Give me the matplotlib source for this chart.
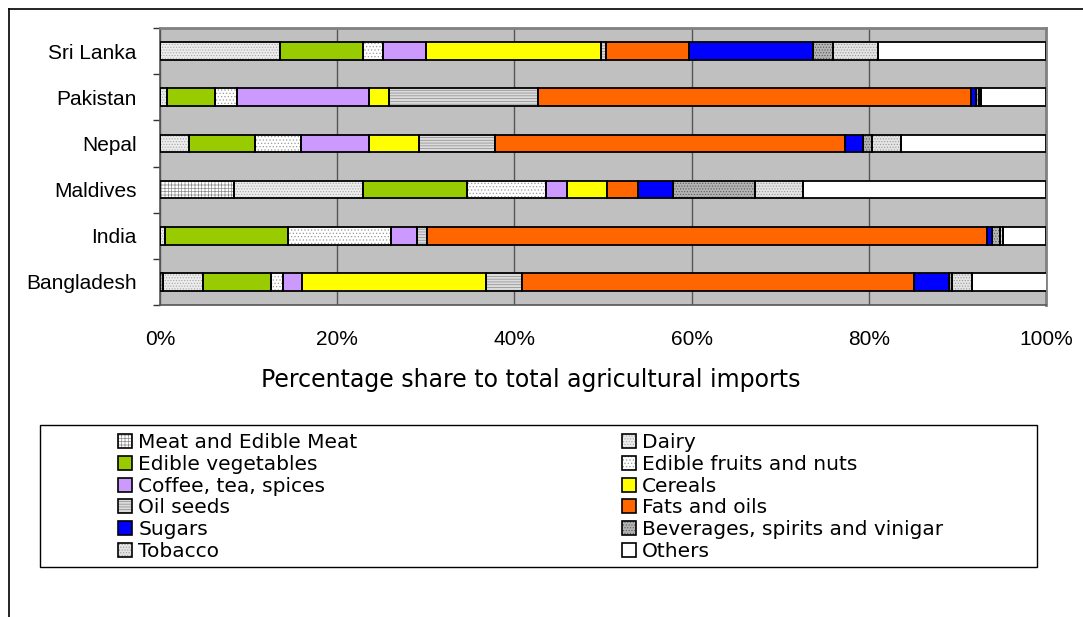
import matplotlib
matplotlib.use("Agg")
import matplotlib.pyplot as plt
from matplotlib.patches import Patch, Rectangle
from matplotlib.lines import Line2D
from matplotlib.legend_handler import HandlerTuple
import numpy as np

plt.rcParams["font.family"] = ["Liberation Sans", "DejaVu Sans"]
plt.rcParams["hatch.linewidth"] = 0.5

# countries, top to bottom
countries = ["Sri Lanka", "Pakistan", "Nepal", "Maldives", "India", "Bangladesh"]

# percentage share of each product group
meat = [0, 0, 0, 8.4, 0, 0.3]
dairy = [13.6, 0.8, 3.3, 14.5, 0.6, 4.5]
vegetables = [9.3, 5.4, 7.4, 11.7, 13.9, 7.7]
fruits = [2.3, 2.5, 5.2, 9.0, 11.6, 1.4]
coffee = [4.8, 14.9, 7.7, 2.3, 2.9, 2.1]
cereals = [19.8, 2.2, 5.6, 4.5, 0, 20.8]
oilseeds = [0.5, 16.9, 8.6, 0, 1.1, 4.1]
fats = [9.4, 48.8, 39.5, 3.6, 63.2, 44.2]
sugars = [14.0, 0.6, 2.0, 3.9, 0.6, 3.9]
beverages = [2.3, 0.3, 1.1, 9.3, 0.9, 0.4]
tobacco = [5.0, 0.3, 3.2, 5.4, 0.4, 2.3]
others = [19.0, 7.3, 16.4, 27.4, 4.8, 8.5]

series_names = [
    "Meat and Edible Meat", "Dairy", "Edible vegetables", "Edible fruits and nuts",
    "Coffee, tea, spices", "Cereals", "Oil seeds", "Fats and oils", "Sugars",
    "Beverages, spirits and vinigar", "Tobacco", "Others",
]
series_values = [meat, dairy, vegetables, fruits, coffee, cereals, oilseeds,
                 fats, sugars, beverages, tobacco, others]

# (face, hatch, hatch colour)
styles = [
    ("white", "+++++", "#8a8a8a"),
    ("#ececec", "......", "#a8a8a8"),
    ("#99cc00", None, "#99cc00"),
    ("white", ".....", "#9a9a9a"),
    ("#cc99ff", None, "#cc99ff"),
    ("#ffff00", None, "#ffff00"),
    ("#dcdcdc", "------", "#8a8a8a"),
    ("#ff6600", None, "#ff6600"),
    ("#0000ff", None, "#0000ff"),
    ("#b4b4b4", "......", "#5a5a5a"),
    ("#e4e4e4", "......", "#9a9a9a"),
    ("white", None, "white"),
]

W, H = 1083, 617
fig = plt.figure(figsize=(W / 100, H / 100), dpi=100)
ax = fig.add_axes([160 / W, 1 - 305 / H, 886 / W, 277 / H])
ax.set_facecolor("#c0c0c0")

y = np.arange(len(countries))
left = np.zeros(len(countries))
handles = []
for name, vals, (face, hatch, hcol) in zip(series_names, series_values, styles):
    vals = np.array(vals)
    ax.barh(y, vals, left=left, height=0.38, color=face, hatch=hatch,
            edgecolor=hcol, linewidth=0, zorder=3)
    ax.barh(y, vals, left=left, height=0.38, fill=False,
            edgecolor="black", linewidth=1.3, zorder=4)
    left += vals
    handles.append((Patch(facecolor=face, hatch=hatch, edgecolor=hcol, linewidth=0),
                    Patch(fill=False, edgecolor="black", linewidth=1.2)))

ax.set_xlim(0, 100)
ax.set_ylim(len(countries) - 0.5, -0.5)
ax.set_xticks(np.arange(0, 101, 20))
ax.set_xticklabels([f"{v}%" for v in range(0, 101, 20)], fontsize=15)
ax.set_yticks(y)
ax.set_yticklabels(countries, fontsize=15)
ax.set_yticks(np.arange(-0.5, len(countries), 1), minor=True)
ax.tick_params(axis="y", which="major", length=0, pad=17)
ax.tick_params(axis="y", which="minor", length=5, width=1, color="#333333")
ax.tick_params(axis="x", length=0, pad=18)
ax.grid(axis="x", color="#555555", linewidth=1, zorder=1)
ax.set_axisbelow(True)
for side in ["top", "right"]:
    ax.spines[side].set_color("#808080")
    ax.spines[side].set_linewidth(2)
for side in ["left", "bottom"]:
    ax.spines[side].set_color("#555555")
    ax.spines[side].set_linewidth(1.2)

fig.text(531 / W, 1 - 380 / H, "Percentage share to total agricultural imports",
         ha="center", va="center", fontsize=17, family="DejaVu Sans")

# outer chart frame (top and left edges visible)
fig.add_artist(Line2D([9 / W, 9 / W], [0, 1 - 9 / H], color="black", linewidth=1.2))
fig.add_artist(Line2D([9 / W, 1], [1 - 9 / H, 1 - 9 / H], color="black", linewidth=1.2))

# legend box
fig.add_artist(Rectangle((40 / W, 1 - 567 / H), 997 / W, 142 / H, fill=False,
                         edgecolor="black", linewidth=1.0, transform=fig.transFigure))

legend_kw = dict(frameon=False, handlelength=0.7, handleheight=0.7,
                 handletextpad=0.3, labelspacing=0.14, borderaxespad=0, borderpad=0,
                 prop={"family": "DejaVu Sans", "size": 14.5},
                 handler_map={tuple: HandlerTuple(ndivide=1, pad=0)})
leg1 = fig.legend([handles[i] for i in range(0, 12, 2)],
                  [series_names[i] for i in range(0, 12, 2)],
                  loc="upper left", bbox_to_anchor=(118 / W, 1 - 433 / H), **legend_kw)
leg2 = fig.legend([handles[i] for i in range(1, 12, 2)],
                  [series_names[i] for i in range(1, 12, 2)],
                  loc="upper left", bbox_to_anchor=(622 / W, 1 - 433 / H), **legend_kw)

fig.savefig("out.png", dpi=100)
